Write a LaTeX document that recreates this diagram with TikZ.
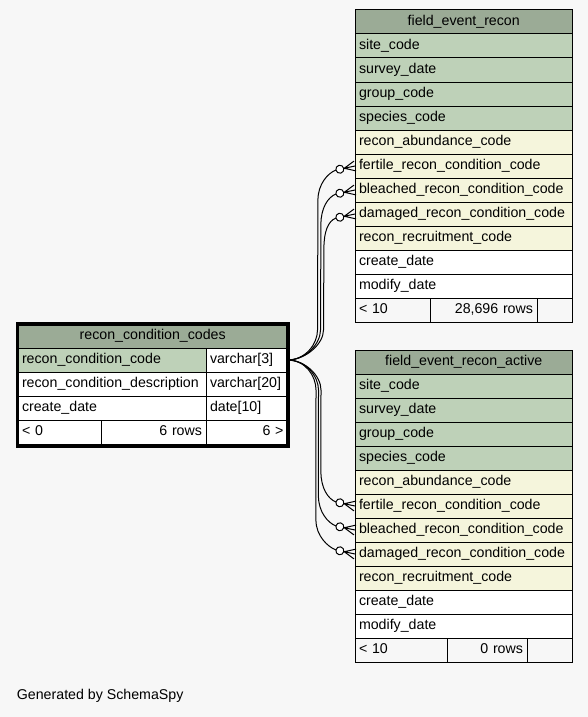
\documentclass[tikz,border=0pt]{standalone}
\usepackage{fontspec}
\setmainfont{Liberation Sans}
\usetikzlibrary{positioning, calc}
\definecolor{headgray}{HTML}{9BAB96}
\definecolor{keygreen}{HTML}{BED1B8}
\definecolor{idxbeige}{HTML}{F5F5DC}
\definecolor{pagegray}{HTML}{F7F7F7}

\begin{document}
\begin{tikzpicture}[x=1pt, y=-1pt,
  tfont/.style={font=\fontsize{14.2}{17}\selectfont},
  cell/.style={tfont, draw=black, line width=1pt, anchor=north west, outer sep=0pt, minimum height=24pt, inner xsep=4pt, inner ysep=0pt, text height=10.5pt, text depth=3pt},
  col/.style={cell, text width=209.5pt, align=left},
  head/.style={cell, fill=headgray, align=center},
  rel/.style={draw=black, line width=1pt},
  crowodot/.pic={
    \draw[line width=1pt] (-11,0) -- (0,-5) (-11,0) -- (0,0) (-11,0) -- (0,5);
    \draw[line width=1pt, fill=white] (-15.5,0) circle[radius=4];
    \coordinate (-tail) at (-19.5,0);
  }
]
  \fill[pagegray] (0,0) rectangle (588,717);
  \useasboundingbox (0,0) rectangle (588,717);

  % referencing tables
  \foreach \tab/\top in {fer/10, fera/350} {
    \foreach \key/\txt/\clr [count=\i] in {site/site\_code/keygreen, survey/survey\_date/keygreen, group/group\_code/keygreen, species/species\_code/keygreen, abund/recon\_abundance\_code/idxbeige, fertile/fertile\_recon\_condition\_code/idxbeige, bleached/bleached\_recon\_condition\_code/idxbeige, damaged/damaged\_recon\_condition\_code/idxbeige, recruit/recon\_recruitment\_code/idxbeige, create/create\_date/white, modify/modify\_date/white}
      \node[col, fill=\clr] (\tab-\key) at (355, \top+24*\i) {\txt};
  }
  \node[head, text width=209.5pt] (fer) at (355,10) {field\_event\_recon};
  \node[cell, fill=pagegray, text width=67pt, align=left] (fer-min) at (355,298) {< 10};
  \node[cell, fill=pagegray, text width=99pt, align=right] (fer-rows) at (430,298) {28,696 rows};
  \node[cell, fill=pagegray, text width=27.5pt] (fer-max) at (537,298) {};

  \node[head, text width=209.5pt] (fera) at (355,350) {field\_event\_recon\_active};
  \node[cell, fill=pagegray, text width=84pt, align=left] (fera-min) at (355,638) {< 10};
  \node[cell, fill=pagegray, text width=72pt, align=right] (fera-rows) at (447,638) {0 rows};
  \node[cell, fill=pagegray, text width=37.5pt] (fera-max) at (527,638) {};

  % focus table
  \node[head, text width=261.5pt] (rcc) at (18,324) {recon\_condition\_codes};
  \node[cell, fill=keygreen, text width=180pt, align=left] (rcc-key) at (18,348) {recon\_condition\_code};
  \node[cell, fill=white, text width=73.5pt, align=left] (rcc-key-type) at (206,348) {varchar[3]};
  \node[cell, fill=white, text width=180pt, align=left] (rcc-desc) at (18,372) {recon\_condition\_description};
  \node[cell, fill=white, text width=73.5pt, align=left] (rcc-desc-type) at (206,372) {varchar[20]};
  \node[cell, fill=white, text width=180pt, align=left] (rcc-create) at (18,396) {create\_date};
  \node[cell, fill=white, text width=73.5pt, align=left] (rcc-create-type) at (206,396) {date[10]};
  \node[cell, fill=white, text width=75pt, align=left] (rcc-min) at (18,420) {< 0};
  \node[cell, fill=white, text width=97pt, align=right] (rcc-rows) at (101,420) {6 rows};
  \node[cell, fill=white, text width=73.5pt, align=right] (rcc-max) at (206,420) {6 >};
  \draw[line width=3.4pt] ($(rcc.north west)+(-0.3,0)$) rectangle ($(rcc-max.south east)+(0.4,2)$);

  % crow's feet
  \foreach \key in {fertile, bleached, damaged} {
    \pic[rotate=12] (ferc-\key) at (fer-\key.west) {crowodot};
    \pic[rotate=-12] (ferac-\key) at (fera-\key.west) {crowodot};
  }

  % relationships
  \draw[rel] (rcc-key-type.east) .. controls +(18,0) and +(0,14) .. ($(rcc-key-type.east)+(30,-30)$) -- ($(ferc-fertile-tail)+(-18,30)$) .. controls +(0,-16) and +(-8,3) .. (ferc-fertile-tail);
  \draw[rel] (rcc-key-type.east) .. controls +(18,0) and +(0,14) .. ($(rcc-key-type.east)+(33,-30)$) -- ($(ferc-bleached-tail)+(-15,30)$) .. controls +(0,-16) and +(-8,3) .. (ferc-bleached-tail);
  \draw[rel] (rcc-key-type.east) .. controls +(18,0) and +(0,14) .. ($(rcc-key-type.east)+(36,-30)$) -- ($(ferc-damaged-tail)+(-12,30)$) .. controls +(0,-16) and +(-8,3) .. (ferc-damaged-tail);
  \draw[rel] (rcc-key-type.east) .. controls +(18,0) and +(0,-14) .. ($(rcc-key-type.east)+(33.5,30)$) -- ($(ferac-fertile-tail)+(-15,-30)$) .. controls +(0,16) and +(-8,-3) .. (ferac-fertile-tail);
  \draw[rel] (rcc-key-type.east) .. controls +(18,0) and +(0,-14) .. ($(rcc-key-type.east)+(31,30)$) -- ($(ferac-bleached-tail)+(-17.5,-30)$) .. controls +(0,16) and +(-8,-3) .. (ferac-bleached-tail);
  \draw[rel] (rcc-key-type.east) .. controls +(18,0) and +(0,-14) .. ($(rcc-key-type.east)+(28.5,30)$) -- ($(ferac-damaged-tail)+(-20,-30)$) .. controls +(0,16) and +(-8,-3) .. (ferac-damaged-tail);

  \node[tfont, anchor=west, inner sep=0pt] (credit) at (16.7,696) {Generated by SchemaSpy};
\end{tikzpicture}
\end{document}
